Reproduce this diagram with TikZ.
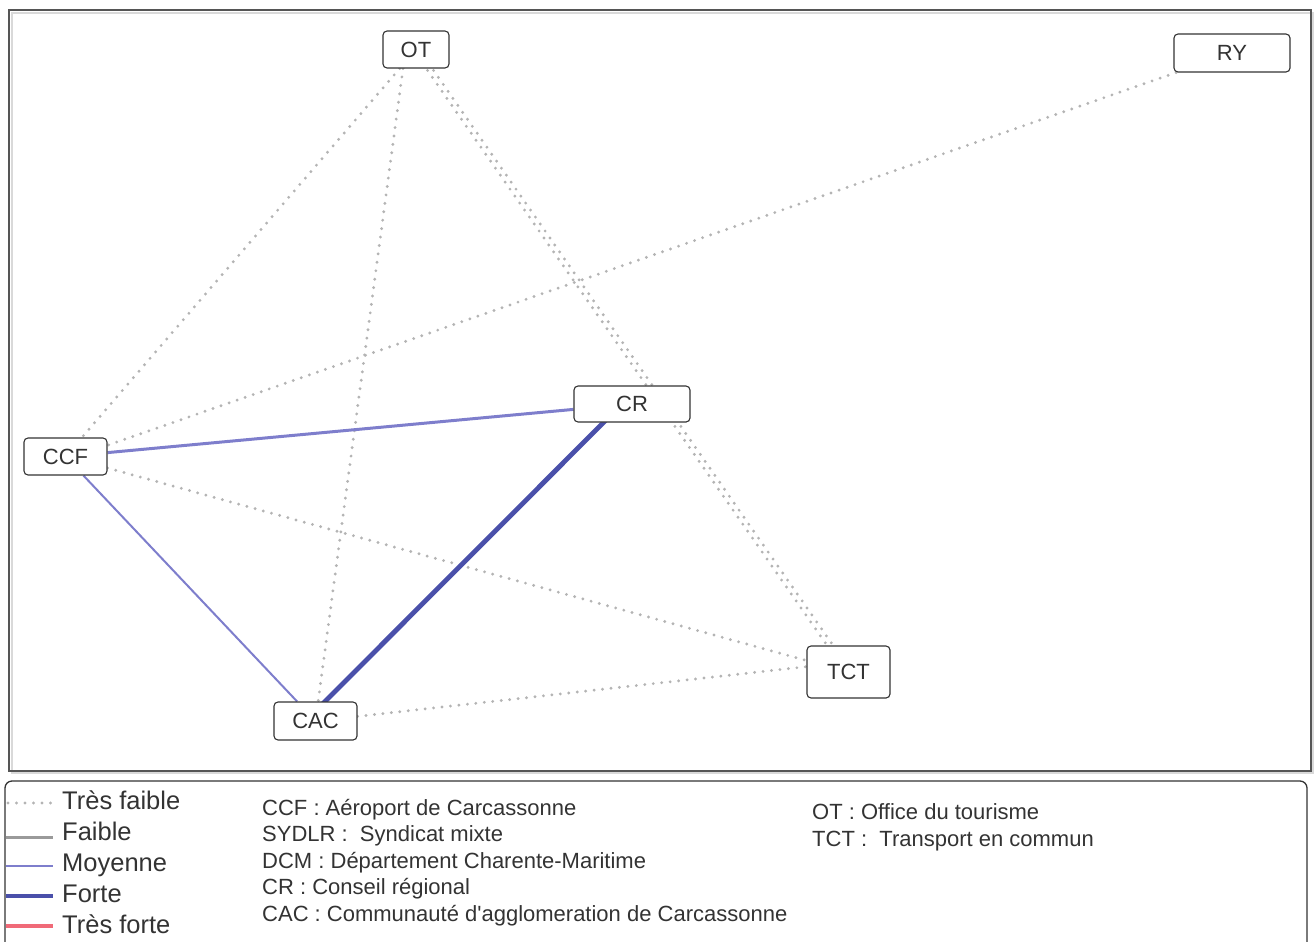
\documentclass[tikz,border=0pt]{standalone}
\usepackage{fontspec}
\setmainfont{Liberation Sans}
\usetikzlibrary{backgrounds}
\definecolor{dotc}{HTML}{B4B4B4}
\definecolor{faiblec}{HTML}{9A9A9A}
\definecolor{moyc}{HTML}{7E7ECC}
\definecolor{fortec}{HTML}{4A50AA}
\definecolor{tfortec}{HTML}{F06A78}
\definecolor{framec}{HTML}{555555}
\definecolor{txtc}{HTML}{333333}
\tikzset{
  actor/.style={draw=txtc, line width=1.1pt, rounded corners=4pt, fill=white,
    inner sep=0pt, font=\fontsize{22}{24}\selectfont, text=txtc},
  vweak/.style={draw=dotc, line width=3.2pt, line cap=round, dash pattern=on 0pt off 8.5pt},
  faible/.style={draw=faiblec, line width=3pt},
  moyenne/.style={draw=moyc, line width=2.6pt},
  forte/.style={draw=fortec, line width=4.8pt},
  tforte/.style={draw=tfortec, line width=4.5pt},
  leglabel/.style={anchor=base west, inner sep=0pt, text=txtc, font=\fontsize{25.5}{28}\selectfont},
  legdesc/.style={anchor=base west, inner sep=0pt, text=txtc, font=\fontsize{22}{24}\selectfont},
}
\begin{document}
\begin{tikzpicture}[x=1pt,y=-1pt]
\useasboundingbox (0,0) rectangle (1314,942);
\clip (0,0) rectangle (1314,942);

% actors
\node[actor, minimum width=66pt, minimum height=37pt] (OT) at (416,49.5) {OT};
\node[actor, minimum width=116pt, minimum height=38pt] (RY) at (1232,53) {RY};
\node[actor, minimum width=116pt, minimum height=36pt] (CR) at (632,404) {CR};
\node[actor, minimum width=83pt, minimum height=37pt] (CCF) at (65.5,456.5) {CCF};
\node[actor, minimum width=83pt, minimum height=52pt] (TCT) at (848.5,672) {TCT};
\node[actor, minimum width=83pt, minimum height=38pt] (CAC) at (315.5,721) {CAC};

\begin{scope}[on background layer]
  % frame
  \draw[draw=black!15, line width=2pt] (12,13) rectangle (1313,773);
  \draw[framec, line width=2.4pt] (9,10) rectangle (1311,771);
  % relations
  \draw[vweak] (OT) -- (CCF);
  \draw[vweak] ([xshift=-13pt]OT.south) -- (CAC.center);
  \draw[vweak] ([xshift=-3pt]OT.center) -- ([xshift=-3pt]TCT.center);
  \draw[vweak] ([xshift=3pt]OT.center) -- ([xshift=3pt]TCT.center);
  \draw[vweak] (RY) -- ([xshift=10pt]CCF.center);
  \draw[vweak] (CCF) -- (TCT);
  \draw[vweak] (CAC) -- ([yshift=10pt]TCT.center);
  \draw[moyenne, line width=3pt] (CCF) -- (CR);
  \draw[moyenne, line width=2pt] (CCF) -- (CAC);
  \draw[forte] ([xshift=-10pt]CR.center) -- ([xshift=-10pt]CAC.center);
\end{scope}

% legend box
\draw[txtc, line width=1.3pt, rounded corners=7pt] (5,781) rectangle (1307,990);

% legend samples
\draw[vweak] (8,803) -- (52,803);
\draw[faible] (6,837) -- (53,837);
\draw[moyenne] (6,866) -- (53,866);
\draw[forte] (6,896) -- (53,896);
\draw[tforte] (6,926) -- (53,926);

\node[leglabel] (l1) at (62,809) {Très faible};
\node[leglabel] (l2) at (62,840) {Faible};
\node[leglabel] (l3) at (62,871) {Moyenne};
\node[leglabel] (l4) at (62,902) {Forte};
\node[leglabel] (l5) at (62,933) {Très forte};

\node[legdesc] (d1) at (262,815) {CCF : Aéroport de Carcassonne};
\node[legdesc] (d2) at (262,841.5) {SYDLR :\ \ Syndicat mixte};
\node[legdesc] (d3) at (262,868) {DCM : Département Charente-Maritime};
\node[legdesc] (d4) at (262,894.5) {CR : Conseil régional};
\node[legdesc] (d5) at (262,921) {CAC : Communauté d\textquotesingle agglomeration de Carcassonne};

\node[legdesc] (d6) at (812,819) {OT : Office du tourisme};
\node[legdesc] (d7) at (812,846) {TCT :\ \ Transport en commun};
\end{tikzpicture}
\end{document}
